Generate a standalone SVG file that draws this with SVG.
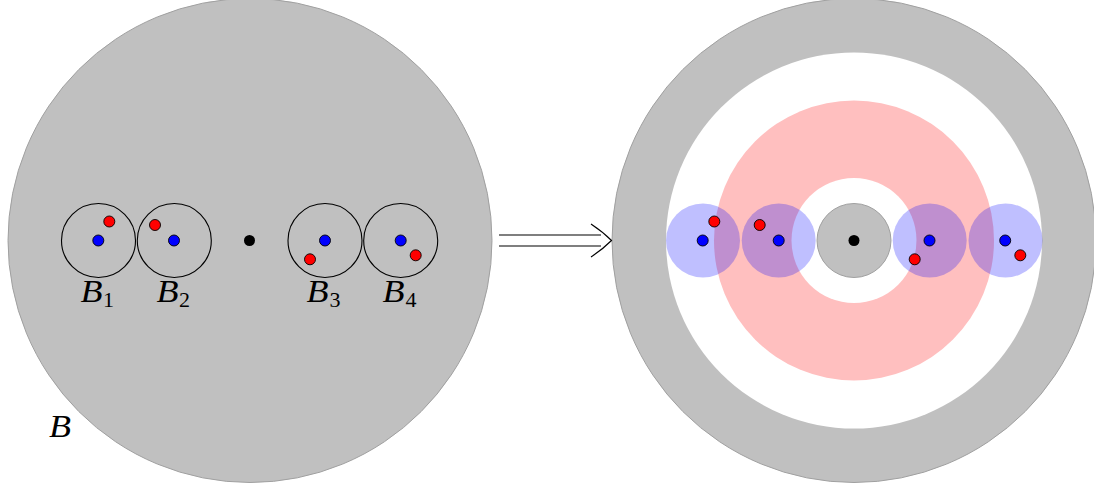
<svg xmlns="http://www.w3.org/2000/svg" width="1094" height="486" viewBox="0 0 1094 486">
<style>
.big{fill:#c0c0c0;stroke:#a0a0a0;stroke-width:1}
.ball{fill:none;stroke:#000;stroke-width:1.1}
.bd{fill:#0000ff;stroke:#000;stroke-width:0.9}
.rd{fill:#ff0000;stroke:#000;stroke-width:0.9}
.kd{fill:#000}
.sh{fill:#0000ff;fill-opacity:0.25}
.lab{font-family:"Liberation Serif","DejaVu Serif",serif;font-style:italic;font-size:31px;fill:#000}
.sub{font-family:"Liberation Serif","DejaVu Serif",serif;font-size:22px;fill:#000}
</style>
<rect width="1094" height="486" fill="#fff"/>
<g id="left">
<circle class="big" cx="250" cy="240.5" r="242"/>
<text class="lab" x="49" y="437" textLength="22" lengthAdjust="spacingAndGlyphs">B</text>
</g>
<g id="B1">
<circle class="ball" cx="98.5" cy="240.5" r="37"/>
<circle class="bd" cx="98.3" cy="240.5" r="5.5"/>
<circle class="rd" cx="109.3" cy="221.5" r="5.5"/>
<text x="80.5" y="301.5"><tspan class="lab" textLength="22" lengthAdjust="spacingAndGlyphs">B</tspan><tspan class="sub" x="103" dy="5">1</tspan></text>
</g>
<g id="B2">
<circle class="ball" cx="174.3" cy="240.5" r="37"/>
<circle class="bd" cx="174" cy="240.5" r="5.5"/>
<circle class="rd" cx="155" cy="225" r="5.5"/>
<text x="156.5" y="301.5"><tspan class="lab" textLength="22" lengthAdjust="spacingAndGlyphs">B</tspan><tspan class="sub" x="179" dy="5">2</tspan></text>
</g>
<g id="center-left"><circle class="kd" cx="249.5" cy="240.5" r="5.5"/></g>
<g id="B3">
<circle class="ball" cx="325" cy="240.5" r="37"/>
<circle class="bd" cx="325" cy="240.5" r="5.5"/>
<circle class="rd" cx="310" cy="259.3" r="5.5"/>
<text x="306.5" y="301.5"><tspan class="lab" textLength="22" lengthAdjust="spacingAndGlyphs">B</tspan><tspan class="sub" x="329.5" dy="5">3</tspan></text>
</g>
<g id="B4">
<circle class="ball" cx="400.7" cy="240.5" r="37"/>
<circle class="bd" cx="400.7" cy="240.5" r="5.5"/>
<circle class="rd" cx="415.7" cy="255.3" r="5.5"/>
<text x="382.5" y="301.5"><tspan class="lab" textLength="22" lengthAdjust="spacingAndGlyphs">B</tspan><tspan class="sub" x="405.5" dy="5">4</tspan></text>
</g>
<g id="right">
<circle class="big" cx="854" cy="240.5" r="242"/>
<circle cx="854" cy="240.5" r="188" fill="#fff"/>
<circle cx="854" cy="240.5" r="140" fill="#ffbfbf"/>
<circle cx="854" cy="240.5" r="62.5" fill="#fff"/>
<circle class="big" cx="854" cy="240.5" r="37"/>
<circle class="kd" cx="854" cy="240.5" r="5.5"/>
</g>
<g id="R1">
<circle class="sh" cx="703" cy="240.5" r="37"/>
<circle class="bd" cx="702.7" cy="240.5" r="5.5"/>
<circle class="rd" cx="714.3" cy="221.5" r="5.5"/>
</g>
<g id="R2">
<circle class="sh" cx="778.7" cy="240.5" r="37"/>
<circle class="bd" cx="778.7" cy="240.5" r="5.5"/>
<circle class="rd" cx="759.7" cy="225" r="5.5"/>
</g>
<g id="R3">
<circle class="sh" cx="929.7" cy="240.5" r="37"/>
<circle class="bd" cx="929.5" cy="240.5" r="5.5"/>
<circle class="rd" cx="914.7" cy="259.3" r="5.5"/>
</g>
<g id="R4">
<circle class="sh" cx="1005.5" cy="240.5" r="37"/>
<circle class="bd" cx="1005.2" cy="240.5" r="5.5"/>
<circle class="rd" cx="1020.3" cy="255.3" r="5.5"/>
</g>
<g id="connectors" fill="none" stroke="#000" stroke-width="1.1">
<path d="M499 235 H601 M499 246 H601"/>
<path d="M591 224 Q603 232 611.5 240.5 Q603 249 591 257"/>
</g>
</svg>
